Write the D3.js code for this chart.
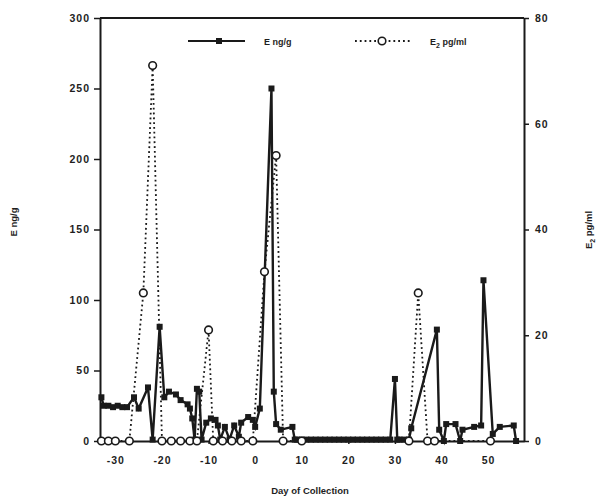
<!DOCTYPE html>
<html>
<head>
<meta charset="utf-8">
<script src="https://cdn.jsdelivr.net/npm/d3@7"></script>
<style>
body { margin: 0; background: #fff; }
text { font-family: "Liberation Sans", Arial, sans-serif; fill: #1e1e1e; }
</style>
</head>
<body>
<div id="chart"></div>
<script>
// E (ng/g), solid line with filled squares
var eDays = [-33, -32.5, -31.5, -30.5, -29.5, -28.5, -27.5, -26, -25, -23, -22, -20.5, -19.5, -18.5, -17, -16,
  -14.5, -14, -13.5, -13, -12.5, -12, -11.5, -10.5, -9.5, -8.5, -8, -7.5, -6.5, -5.5, -4.5, -3.5, -3, -1.5, -0.5, 0,
  1, 3.5, 4, 4.5, 5.5, 8, 8.5, 9, 10, 11, 12, 13, 14, 15, 16, 17, 18, 19, 20, 21, 22, 23, 24, 25, 26, 27, 28, 29,
  30, 30.5, 31, 32, 33, 33.5, 39, 39.5, 40.5, 41, 43, 44, 44.5, 47, 48.5, 49, 51, 52.5, 55.5, 56];
var eValues = [31, 25, 25, 24, 25, 24, 24, 31, 23, 38, 1, 81, 31, 35, 33, 29,
  26, 23, 16, 1, 37, 35, 1, 13, 16, 15, 11, 1, 10, 1, 11, 3, 13, 17, 15, 10,
  23, 250, 35, 12, 8, 10, 1, 1, 1, 1, 1, 1, 1, 1, 1, 1, 1, 1, 1, 1, 1, 1, 1, 1, 1, 1, 1, 1,
  44, 1, 1, 1, 1, 9, 79, 8, 0, 12, 12, 0, 8, 10, 11, 114, 5, 10, 11, 0];

// E2 (pg/ml), dotted line with open circles
var e2Days = [-33, -31.5, -30, -27, -24, -22, -20, -18, -16, -14, -12.5, -10, -9, -7, -5, -3, -0.5,
  2, 4.5, 6, 10, 33, 35, 37, 38.5, 50.5];
var e2Values = [0, 0, 0, 0, 28, 71, 0, 0, 0, 0, 0, 21, 0, 0, 0, 0, 0,
  32, 54, 0, 0, 0, 28, 0, 0, 0];

var xTicks = [-30, -20, -10, 0, 10, 20, 30, 40, 50];
var xTickLabels = ["-30", "-20", "-10", "0", "10", "20", "30", "40", "50"];
var leftTicks = [0, 50, 100, 150, 200, 250, 300];
var rightTicks = [0, 20, 40, 60, 80];

var width = 603, height = 500;
var pLeft = 100, pRight = 524, pTop = 18, pBottom = 441;

var svg = d3.select("#chart").append("svg")
  .attr("width", width)
  .attr("height", height);

var x = d3.scaleLinear().domain([-33.3, 57.7]).range([pLeft, pRight]);
var yLeft = d3.scaleLinear().domain([0, 300]).range([pBottom, pTop]);
var yRight = d3.scaleLinear().domain([0, 80]).range([pBottom, pTop]);

var ink = "#1a1a1a";

// frame top
svg.append("line")
  .attr("x1", pLeft).attr("x2", pRight)
  .attr("y1", pTop).attr("y2", pTop)
  .attr("stroke", ink).attr("stroke-width", 2);

// axes
var gl = svg.append("g")
  .attr("transform", "translate(" + pLeft + ",0)")
  .call(d3.axisLeft(yLeft).tickValues(leftTicks).tickSize(6).tickPadding(4).tickSizeOuter(0));
var gr = svg.append("g")
  .attr("transform", "translate(" + pRight + ",0)")
  .call(d3.axisRight(yRight).tickValues(rightTicks).tickSize(5).tickPadding(6).tickSizeOuter(0));
var gb = svg.append("g")
  .attr("transform", "translate(0," + pBottom + ")")
  .call(d3.axisBottom(x).tickValues(xTicks).tickFormat((d, i) => xTickLabels[i]).tickSize(3).tickPadding(13).tickSizeOuter(0));

[gl, gr, gb].forEach(g => {
  g.select(".domain").attr("stroke", ink).attr("stroke-width", 2);
  g.selectAll(".tick line").attr("stroke", ink).attr("stroke-width", 1.5);
  g.selectAll(".tick text")
    .attr("font-size", 10.5)
    .attr("font-weight", "bold")
    .attr("letter-spacing", 1)
    .attr("fill", ink);
});

// E2 dotted line + circles
var e2Pts = e2Days.map((d, i) => [d, e2Values[i]]);
var e2Line = d3.line().x(d => x(d[0])).y(d => yRight(d[1]));
svg.append("path")
  .attr("d", e2Line(e2Pts))
  .attr("fill", "none")
  .attr("stroke", ink)
  .attr("stroke-width", 1.8)
  .attr("stroke-dasharray", "1.8,3");

// E solid line + squares
var ePts = eDays.map((d, i) => [d, eValues[i]]);
var eLine = d3.line().x(d => x(d[0])).y(d => yLeft(d[1]));
svg.append("path")
  .attr("d", eLine(ePts))
  .attr("fill", "none")
  .attr("stroke", ink)
  .attr("stroke-width", 2.4);

svg.selectAll("rect.e")
  .data(ePts)
  .enter()
  .append("rect")
  .attr("class", "e")
  .attr("x", d => x(d[0]) - 3)
  .attr("y", d => yLeft(d[1]) - 3)
  .attr("width", 6)
  .attr("height", 6)
  .attr("fill", ink);

svg.selectAll("circle.e2")
  .data(e2Pts)
  .enter()
  .append("circle")
  .attr("class", "e2")
  .attr("cx", d => x(d[0]))
  .attr("cy", d => yRight(d[1]))
  .attr("r", 3.8)
  .attr("fill", "#fff")
  .attr("stroke", ink)
  .attr("stroke-width", 1.6);

// legend
var lg = svg.append("g");
lg.append("line").attr("x1", 188).attr("x2", 245).attr("y1", 41).attr("y2", 41)
  .attr("stroke", ink).attr("stroke-width", 2.2);
lg.append("rect").attr("x", 216).attr("y", 38).attr("width", 6).attr("height", 6).attr("fill", ink);
lg.append("text").attr("x", 264).attr("y", 45).attr("font-size", 9).attr("font-weight", "bold")
  .text("E  ng/g");
lg.append("line").attr("x1", 355).attr("x2", 410).attr("y1", 41).attr("y2", 41)
  .attr("stroke", ink).attr("stroke-width", 1.8).attr("stroke-dasharray", "1.8,3");
lg.append("circle").attr("cx", 382).attr("cy", 41).attr("r", 3.8)
  .attr("fill", "#fff").attr("stroke", ink).attr("stroke-width", 1.6);
var t2 = lg.append("text").attr("x", 430).attr("y", 45).attr("font-size", 9).attr("font-weight", "bold");
t2.append("tspan").text("E");
t2.append("tspan").attr("dy", 3).attr("font-size", 7).text("2");
t2.append("tspan").attr("dy", -3).text("  pg/ml");

// axis titles
svg.append("text")
  .attr("x", 310).attr("y", 494)
  .attr("text-anchor", "middle")
  .attr("font-size", 9.5).attr("font-weight", "bold")
  .text("Day of Collection");

svg.append("text")
  .attr("transform", "translate(17,222) rotate(-90)")
  .attr("text-anchor", "middle")
  .attr("font-size", 9.5).attr("font-weight", "bold")
  .text("E  ng/g");

var rt = svg.append("text")
  .attr("transform", "translate(592,230) rotate(-90)")
  .attr("text-anchor", "middle")
  .attr("font-size", 9.5).attr("font-weight", "bold");
rt.append("tspan").text("E");
rt.append("tspan").attr("dy", 3).attr("font-size", 7).text("2");
rt.append("tspan").attr("dy", -3).text("  pg/ml");
</script>
</body>
</html>
